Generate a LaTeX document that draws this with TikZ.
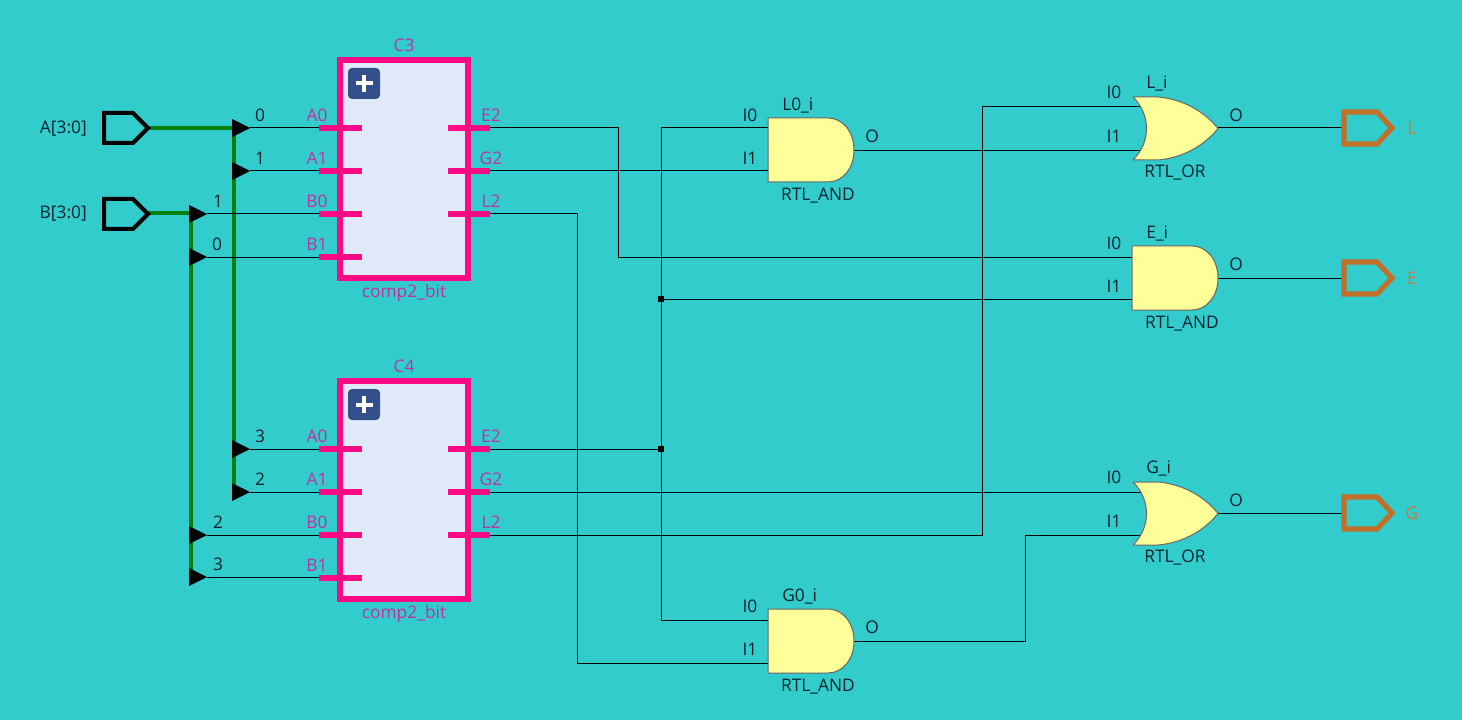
\documentclass[tikz,border=0pt]{standalone}
\usepackage{fontspec}
\setmainfont{Open Sans}
\definecolor{bgc}{HTML}{33CCCC}
\definecolor{pinc}{HTML}{FF0A85}
\definecolor{pinl}{HTML}{C030A0}
\definecolor{boxf}{HTML}{DFE9F7}
\definecolor{gatef}{HTML}{FFFF99}
\definecolor{gatee}{HTML}{666666}
\definecolor{outc}{HTML}{C0702A}
\definecolor{outl}{HTML}{CC7A35}
\definecolor{busc}{HTML}{048004}
\definecolor{plusc}{HTML}{34508A}
\definecolor{txtc}{HTML}{06242C}
\tikzset{
  wire/.style={draw=black,line width=0.75pt},
  bus/.style={draw=busc,line width=3pt},
  tip/.style={fill=black,draw=none},
  gatebody/.style={fill=gatef,draw=gatee,line width=0.75pt,line join=round},
  txt/.style={font=\fontsize{13}{15}\selectfont,text=txtc,inner sep=0pt,yshift=-0.1pt},
  pintxt/.style={font=\fontsize{13}{15}\selectfont,text=pinl,inner sep=0pt,yshift=-0.1pt},
  outtxt/.style={font=\fontsize{13}{15}\selectfont,text=outl,inner sep=0pt,yshift=-0.1pt},
  pinbar/.style={draw=pinc,line width=4.5pt},
  modbox/.style={draw=pinc,line width=4.5pt,fill=boxf,minimum width=95.7pt,minimum height=163pt,inner sep=0pt},
  junc/.style={fill=black,draw=none,minimum size=4.5pt,inner sep=0pt,rectangle},
  inport/.style={draw=black,line width=3pt,miter limit=4},
  outport/.style={draw=outc,line width=3.9pt},
}
\newcommand{\andgate}[4]{%
  \begin{scope}[shift={(#2,#3)}]
    \path[gatebody] (0,0) -- (60,0) .. controls (75,0) and (86,14) .. (86,32) .. controls (86,50) and (75,64) .. (60,64) -- (0,64) -- cycle;
    \node[txt,anchor=west] (#1-name) at (14,-13) {#4};
    \node[txt] (#1-type) at (50,77) {RTL\_AND};
    \node[txt] (#1-ol) at (104,18) {O};
    \node[txt] (#1-a) at (-18,-3) {I0};
    \node[txt] (#1-b) at (-18,40) {I1};
  \end{scope}}
\newcommand{\orgate}[4]{%
  \begin{scope}[shift={(#2,#3)}]
    \path[gatebody] (0,0) -- (25,0) .. controls (50,2) and (72,15) .. (85,31.5) .. controls (72,48) and (50,61) .. (25,63) -- (0,63) .. controls (18,45) and (18,18) .. (0,0) -- cycle;
    \node[txt,anchor=west] (#1-name) at (13,-14) {#4};
    \node[txt] (#1-type) at (42,75) {RTL\_OR};
    \node[txt] (#1-ol) at (103,18) {O};
    \node[txt] (#1-a) at (-19,-5) {I0};
    \node[txt] (#1-b) at (-19,39) {I1};
  \end{scope}}
\newcommand{\inportshape}[3]{%
  \begin{scope}[shift={(#2,#3)}]
    \path[inport] (-44,-15) -- (-15,-15) -- (0,0) -- (-15,15) -- (-44,15) -- cycle;
  \end{scope}}
\newcommand{\outportshape}[4]{%
  \begin{scope}[shift={(#2,#3)}]
    \path[outport] (0,-16) -- (33,-16) -- (48,0) -- (33,16) -- (0,16) -- cycle;
    \node[outtxt] (#1-lab) at (68,0) {#4};
  \end{scope}}
\newcommand{\tipat}[2]{\path[tip] (#1,#2) ++(0,-9) -- ++(18,9) -- ++(-18,9) -- cycle;}
\newcommand{\modpart}[3]{%
  \begin{scope}[shift={(0,#3)}]
    \node[modbox] (#1) at (404,111) {};
    \node[txt,text=pinl] (#1-name) at (404,-13) {#2};
    \node[txt,text=pinl] (#1-type) at (404,235) {comp2\_bit};
    \path[fill=plusc,rounded corners=3pt] (348,10) rectangle (380,41);
    \path[fill=white] (362,17) rectangle (366,34);
    \path[fill=white] (355.5,23.5) rectangle (372.5,27.5);
    \foreach \yy/\ll/\rr [count=\ii] in {70/A0/E2,113/A1/G2,156/B0/L2,199/B1/} {
      \path[pinbar] (319,\yy) -- (362,\yy);
      \node[pintxt] (#1-l\ii) at (317,\yy-13) {\ll};
      \ifx\rr\empty\else
        \path[pinbar] (448,\yy) -- (490,\yy);
        \node[pintxt] (#1-r\ii) at (491,\yy-13) {\rr};
      \fi
    }
  \end{scope}}
\begin{document}
\begin{tikzpicture}[x=0.75pt,y=-0.75pt]
  \path[fill=bgc] (0,0) rectangle (1462,720);
  \useasboundingbox (0,0) rectangle (1462,720);

  \foreach \n/\x/\y in {
    a/148/128, b/148/213, av/234/128, avb/234/492, bv/191/213, bvb/191/577,
    a0/250/128, a1/250/171, b1/207/214, b0/207/257,
    a3/250/449, a2/250/492, b2/207/535, b3/207/577,
    pa0/325/128, pa1/325/171, pb1/325/214, pb0/325/257,
    pa3/325/449, pa2/325/492, pb2/325/535, pb3/325/577,
    c3e/485/128, c3g/485/171, c3l/485/214, c4e/485/449, c4g/485/492, c4l/485/535,
    ei0/1140/257, ei1/1140/299, li0/1145/107, li1/1145/150.5, gi0/1145/492, gi1/1145/535,
    l0i0/775/128, l0i1/775/171, g0i0/775/620, g0i1/775/663,
    l0o/850/150.5, g0o/850/641, lo/1215/128, eo/1215/278, go/1215/513,
    pl/1345/128, pe/1345/278, pg/1345/513,
    j1/661/299, j2/661/449, t/661/128, bt/661/620,
    e1/618/128, l1/577/214, c4lv/982/535, g0v/1025/641} {
    \coordinate (\n) at (\x,\y);
  }

  \draw[bus] (a) -- (av) -- (avb);
  \draw[bus] (b) -- (bv) -- (bvb);

  \foreach \p/\q in {a0/pa0,a1/pa1,b1/pb1,b0/pb0,a3/pa3,a2/pa2,b2/pb2,b3/pb3,lo/pl,eo/pe,go/pg,c3g/l0i1,c4g/gi0,c4e/j2,j1/ei1,l0o/li1} {
    \draw[wire] (\p) -- (\q);
  }
  \draw[wire] (c3e) -- (e1) -- (e1 |- ei0) -- (ei0);
  \draw[wire] (c3l) -- (l1) -- (l1 |- g0i1) -- (g0i1);
  \draw[wire] (l0i0) -- (t) -- (bt) -- (g0i0);
  \draw[wire] (c4l) -- (c4lv) -- (c4lv |- li0) -- (li0);
  \draw[wire] (g0o) -- (g0v) -- (g0v |- gi1) -- (gi1);
  \node[junc] (jn1) at (j1) {};
  \node[junc] (jn2) at (j2) {};

  \tipat{232}{128}\tipat{232}{171}\tipat{232}{449}\tipat{232}{492}
  \tipat{189}{214}\tipat{189}{257}\tipat{189}{535}\tipat{189}{577}

  \inportshape{A}{148}{128}
  \inportshape{B}{148}{214}
  \node[txt,anchor=east] (alab) at (87,128) {A[3:0]};
  \node[txt,anchor=east] (blab) at (87,213) {B[3:0]};

  \foreach \t/\x/\y [count=\i] in {0/260/115,1/260/158,1/218/201,0/217/244,3/260/436,2/260/479,2/218/522,3/218/564} {
    \node[txt] (bit\i) at (\x,\y) {\t};
  }

  \modpart{C3}{C3}{58}
  \modpart{C4}{C4}{379}

  \andgate{L0}{768}{118}{L0\_i}
  \andgate{G0}{768}{609}{G0\_i}
  \andgate{Ei}{1132}{246}{E\_i}
  \orgate{Li}{1133}{97}{L\_i}
  \orgate{Gi}{1133}{482}{G\_i}

  \outportshape{L}{1344}{128}{L}
  \outportshape{E}{1344}{278}{E}
  \outportshape{G}{1344}{513}{G}
\end{tikzpicture}
\end{document}
